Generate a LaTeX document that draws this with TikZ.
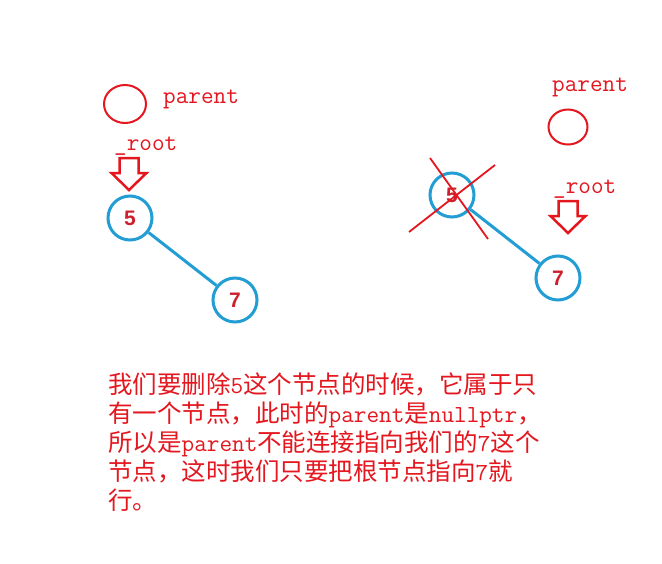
\documentclass[tikz,border=0pt]{standalone}
\usepackage{fontspec}
\setmainfont{Noto Sans CJK SC}
\newfontfamily\numfont{Liberation Sans}
\usetikzlibrary{shapes.geometric}
\definecolor{myred}{RGB}{228,22,30}
\definecolor{myblue}{RGB}{34,158,212}
\definecolor{numred}{RGB}{205,32,44}
\tikzset{
  lbl/.style={text=myred, font=\fontsize{24.5}{29}\selectfont\ttfamily, inner sep=0, anchor=base west},
  bodyline/.style={text=myred, font=\fontsize{24.5}{29}\selectfont, inner sep=0, anchor=base west},
  treenode/.style={circle, draw=myblue, line width=3, minimum size=44, inner sep=0, text=numred,
    font=\numfont\bfseries\fontsize{21}{21}\selectfont},
  redring/.style={ellipse, draw=myred, line width=2, inner sep=0},
  treeedge/.style={draw=myblue, line width=3},
  crossline/.style={draw=myred, line width=1.8},
  downarrow/.pic={\draw[myred, line width=2.5, line join=miter]
    (-9.5,0) -- (9.5,0) -- (9.5,15) -- (17.5,15) -- (0,32) -- (-17.5,15) -- (-9.5,15) -- cycle;}
}
\begin{document}
\begin{tikzpicture}[x=1pt,y=-1pt]
\useasboundingbox[fill=white] (0,0) rectangle (662,563);

% left situation
\node[redring, minimum width=42, minimum height=38] (lpar) at (125,104) {};
\node[lbl] (lparlbl) at (163,103) {parent};
\node[lbl] (lrootlbl) at (114,150) {\_root};
\pic at (129,158) {downarrow};
\node[treenode] (l5) at (130,218) {5};
\node[treenode] (l7) at (235,300) {7};
\draw[treeedge] (l5) -- (l7);

% right situation
\node[lbl] (rparlbl) at (552,91) {parent};
\node[redring, minimum width=39, minimum height=35] (rpar) at (568,127) {};
\node[lbl] (rrootlbl) at (553,193) {\_root};
\pic at (568,201) {downarrow};
\node[treenode] (r5) at (452,195) {5};
\node[treenode] (r7) at (558,278) {7};
\draw[treeedge] (r5) -- (r7);
\coordinate (xa1) at (430,158);
\coordinate (xa2) at (488,239);
\coordinate (xb1) at (495,165);
\coordinate (xb2) at (409,232);
\draw[crossline] (xa1) -- (xa2);
\draw[crossline] (xb1) -- (xb2);

% explanation
\node[bodyline] (t1) at (108,393) {我们要删除\texttt{5}这个节点的时候，它属于只};
\node[bodyline] (t2) at (108,422) {有一个节点，此时的\texttt{parent}是\texttt{nullptr}，};
\node[bodyline] (t3) at (108,451) {所以是\texttt{parent}不能连接指向我们的\texttt{7}这个};
\node[bodyline] (t4) at (108,480) {节点，这时我们只要把根节点指向\texttt{7}就};
\node[bodyline] (t5) at (108,509) {行。};
\end{tikzpicture}
\end{document}
